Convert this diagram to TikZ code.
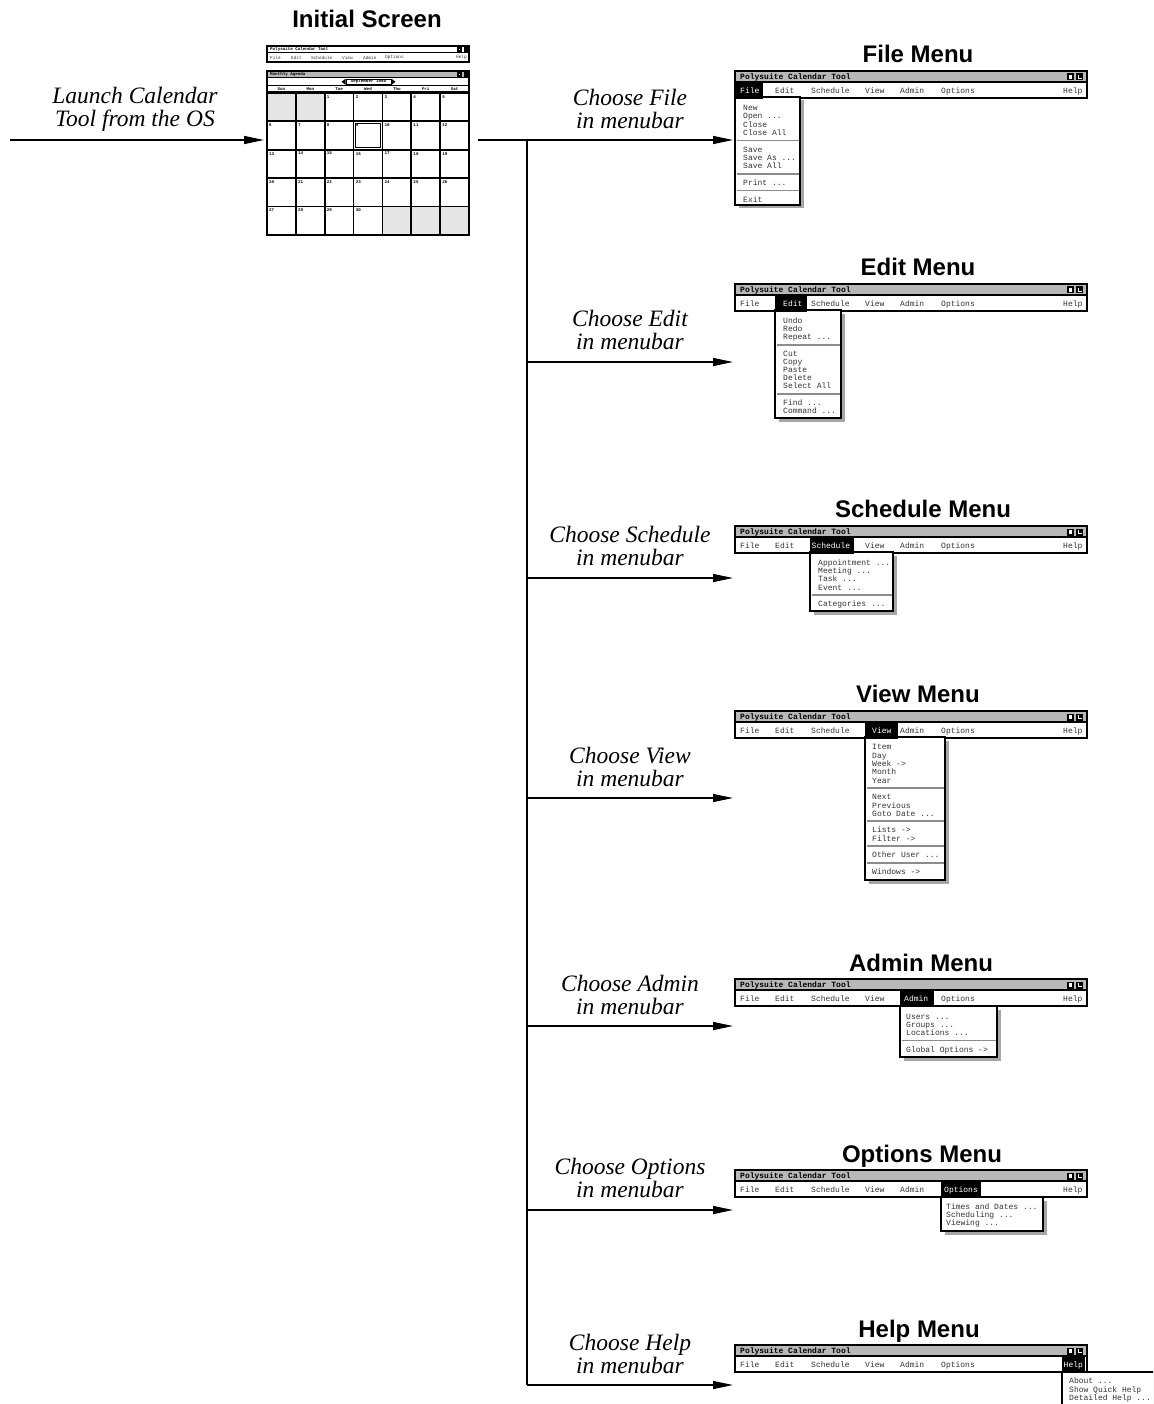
\documentclass[tikz,border=0pt]{standalone}
\usepackage{fontspec}
\setmainfont{Liberation Serif}
\newfontfamily\hsans{Liberation Sans}
\newfontfamily\mono{Liberation Mono}
\usetikzlibrary{arrows.meta}
\newcounter{nd}
\tikzset{
 conn/.style={line width=1.3pt,-{Triangle[length=20pt,width=8pt]}},
 plainline/.style={line width=1.3pt},
 lbl/.style={font=\fontsize{23.5}{23}\selectfont\itshape,align=center,inner sep=0pt},
 ttl/.style={font=\hsans\bfseries\fontsize{24}{24}\selectfont,inner sep=0pt,anchor=base},
 mtxt/.style={font=\mono\fontsize{8}{8}\selectfont,text=black!80,inner sep=0pt,anchor=base west},
 mtitle/.style={font=\mono\bfseries\fontsize{8}{8}\selectfont,inner sep=0pt,anchor=base west},
 tinyt/.style={font=\mono\fontsize{4.4}{4.4}\selectfont,inner sep=0pt,text=black!80},
 tinyb/.style={font=\mono\bfseries\fontsize{4.2}{4.2}\selectfont,inner sep=0pt},
 winframe/.style={line width=1.8pt},
 sepline/.style={black!45,line width=1.8pt},
}
\newcommand\mt[3]{\stepcounter{nd}\node[mtxt] (n\arabic{nd}) at (#1,#2+3.4) {#3};}
\newcommand\mwin[2]{%
 \begin{scope}[yshift=-#1pt]
  \fill[black!28] (735,0) rectangle (1087,11);
  \draw[winframe] (735,0) rectangle (1087,27);
  \draw[line width=1.4pt] (735,11) -- (1087,11);
  \stepcounter{nd}\node[mtitle] (n\arabic{nd}) at (740,8.5) {Polysuite Calendar Tool};
  \fill (1067,2.5) rectangle (1074,9.5); \fill[white] (1068.8,4.3) rectangle (1072.2,7.7);
  \fill (1076,2.5) rectangle (1083,9.5); \fill[white] (1077.5,4) rectangle (1081.5,8); \fill (1079,4) rectangle (1081.5,6.6);
  \ifnum#2=1 \else\mt{740}{19.5}{File}\fi
  \ifnum#2=2 \else\mt{775}{19.5}{Edit}\fi
  \ifnum#2=3 \else\mt{811}{19.5}{Schedule}\fi
  \ifnum#2=4 \else\mt{865}{19.5}{View}\fi
  \ifnum#2=5 \else\mt{900}{19.5}{Admin}\fi
  \ifnum#2=6 \else\mt{941}{19.5}{Options}\fi
  \ifnum#2=7 \else\mt{1063}{19.5}{Help}\fi
 \end{scope}}
\newcommand\dd[4]{\fill[black!35] (#1+3.5,#2+3.5) rectangle (#3+3.5,#4+3.5);
 \draw[winframe,fill=white] (#1,#2) rectangle (#3,#4);}
\newcommand\sepl[3]{\draw[sepline] (#1+1.5,#3) -- (#2-1.5,#3);}
\newcommand\hl[5]{\fill (#1,#3+11) rectangle (#2,#3+28);
 \stepcounter{nd}\node[mtxt,text=white] (n\arabic{nd}) at (#4,#3+22.9) {#5};}
\begin{document}
\begin{tikzpicture}[x=1pt,y=-1pt]
\useasboundingbox (0,0) rectangle (1153,1404);
\clip (0,0) rectangle (1153,1404);
\fill[white] (0,0) rectangle (1153,1404);

% ---------- Initial screen ----------
\node[ttl] (tinit) at (367,28) {Initial Screen};
\draw[line width=1.5pt] (267,46) rectangle (469,62);
\draw[line width=1pt] (267,53) -- (469,53);
\node[tinyb,anchor=west] (s0) at (270,49.6) {Polysuite Calendar Tool};
\fill (457,47.3) rectangle (462,52); \fill[white] (459,49) rectangle (460.2,50.2);
\fill (463.5,47.3) rectangle (468,52);
\node[tinyt,anchor=west] (s1) at (270,57.8) {File};
\node[tinyt,anchor=west] (s2) at (291,57.8) {Edit};
\node[tinyt,anchor=west] (s3) at (311,57.8) {Schedule};
\node[tinyt,anchor=west] (s4) at (342,57.8) {View};
\node[tinyt,anchor=west] (s5) at (363,57.8) {Admin};
\node[tinyt,anchor=west] (s6) at (385,57.8) {Options};
\node[tinyt,anchor=west] (s7) at (456,57.8) {Help};

\fill[black!28] (267,71) rectangle (469,78);
\draw[line width=1.5pt] (267,71) rectangle (469,235);
\draw[line width=1pt] (267,78) -- (469,78);
\draw[line width=1pt] (267,85.5) -- (469,85.5);
\draw[line width=1pt] (267,92) -- (469,92);
\node[tinyb,anchor=west] (c0) at (270,74.5) {Monthly Agenda};
\fill (457,72.3) rectangle (462,77); \fill[white] (459,74) rectangle (460.2,75.2);
\fill (463.5,72.3) rectangle (468,77);
\draw[line width=1pt,fill=white] (346,79.3) rectangle (391,84.3);
\node[tinyb] (c1) at (368.5,81.8) {September 1998};
\fill (345.5,78.8) -- (341.5,81.8) -- (345.5,84.8) -- cycle;
\fill (391.5,78.8) -- (395.5,81.8) -- (391.5,84.8) -- cycle;
\foreach \d [count=\i from 0] in {Sun,Mon,Tue,Wed,Thu,Fri,Sat}{
  \node[tinyb] (h\i) at (267+14.43+\i*28.857,88.8) {\d};
}
\foreach \r in {0,...,4}{
 \foreach \c in {0,...,6}{
  \pgfmathtruncatemacro\n{7*\r+\c-1}
  \pgfmathsetmacro\xa{267+\c*28.857}
  \pgfmathsetmacro\ya{93+\r*28.4}
  \ifnum\n<1 \fill[black!10] (\xa,\ya) rectangle (\xa+28.857,\ya+28.4);
  \else\ifnum\n>30 \fill[black!10] (\xa,\ya) rectangle (\xa+28.857,\ya+28.4);
  \else \node[tinyb,anchor=north west] (d\n) at (\xa+2,\ya+2.2) {\n};
  \fi\fi
 }}
\foreach \c in {0,...,7}{\draw[line width=1.8pt] (267+\c*28.857,93) -- (267+\c*28.857,235);}
\foreach \r in {0,...,5}{\draw[line width=1.8pt] (267,93+\r*28.4) -- (469,93+\r*28.4);}
\draw[line width=0.9pt] (353.6+1.9,121.4+1.9) rectangle (382.4-1.9,149.8-1.9);

% ---------- Connectors ----------
\coordinate (os) at (10,140);
\coordinate (scrIn) at (264,140);
\coordinate (scrOut) at (478,140);
\coordinate (split) at (527,140);
\coordinate (trunkEnd) at (527,1385);
\draw[conn] (os) -- (scrIn);
\draw[plainline] (scrOut) -- (split) -- (trunkEnd);
\foreach \y [count=\k] in {140,362,578,798,1026,1210,1385}{
  \coordinate (b\k) at (527,\y);
  \coordinate (m\k) at (733,\y);
  \draw[conn] (b\k) -- (m\k);
}

% ---------- Labels ----------
\node[lbl] (lLaunch) at (135,109.5) {Launch Calendar\\Tool from the OS};
\node[lbl] (lFile) at (630,108.5) {Choose File\\in menubar};
\node[lbl] (lEdit) at (630,329.5) {Choose Edit\\in menubar};
\node[lbl] (lSched) at (630,545.5) {Choose Schedule\\in menubar};
\node[lbl] (lView) at (630,766.5) {Choose View\\in menubar};
\node[lbl] (lAdmin) at (630,994.5) {Choose Admin\\in menubar};
\node[lbl] (lOpt) at (630,1177.5) {Choose Options\\in menubar};
\node[lbl] (lHelp) at (630,1354) {Choose Help\\in menubar};

% ---------- File menu ----------
\node[ttl] (tFile) at (918,63) {File Menu};
\mwin{71}{1}
\dd{735}{97}{800}{205}
\hl{735}{763}{71}{740}{File}
\mt{743}{107}{New}
\mt{743}{115.5}{Open ...}
\mt{743}{124}{Close}
\mt{743}{132.5}{Close All}
\sepl{735}{800}{140.5}
\mt{743}{149}{Save}
\mt{743}{157}{Save As ...}
\mt{743}{165}{Save All}
\sepl{735}{800}{174}
\mt{743}{182}{Print ...}
\sepl{735}{800}{190.5}
\mt{743}{199}{Exit}

% ---------- Edit menu ----------
\node[ttl] (tEdit) at (918,276) {Edit Menu};
\mwin{284}{2}
\dd{775}{310}{841}{418}
\hl{775}{807}{284}{783}{Edit}
\mt{783}{320}{Undo}
\mt{783}{328}{Redo}
\mt{783}{336.5}{Repeat ...}
\sepl{775}{841}{345}
\mt{783}{353}{Cut}
\mt{783}{361}{Copy}
\mt{783}{369}{Paste}
\mt{783}{377}{Delete}
\mt{783}{385}{Select All}
\sepl{775}{841}{394}
\mt{783}{402}{Find ...}
\mt{783}{410.5}{Command ...}

% ---------- Schedule menu ----------
\node[ttl] (tSched) at (923,517) {Schedule Menu};
\mwin{526}{3}
\dd{810}{552}{893}{611}
\hl{810}{854}{526}{811.5}{Schedule}
\mt{818}{562}{Appointment ...}
\mt{818}{570}{Meeting ...}
\mt{818}{578.5}{Task ...}
\mt{818}{587}{Event ...}
\sepl{810}{893}{595}
\mt{818}{603}{Categories ...}

% ---------- View menu ----------
\node[ttl] (tView) at (918,702) {View Menu};
\mwin{711}{4}
\dd{865}{737}{945}{880}
\hl{865}{898}{711}{872}{View}
\mt{872}{746.5}{Item}
\mt{872}{755}{Day}
\mt{872}{763}{Week ->}
\mt{872}{771.5}{Month}
\mt{872}{780}{Year}
\sepl{865}{945}{788}
\mt{872}{796}{Next}
\mt{872}{805}{Previous}
\mt{872}{813}{Goto Date ...}
\sepl{865}{945}{821}
\mt{872}{829.5}{Lists ->}
\mt{872}{838}{Filter ->}
\sepl{865}{945}{846}
\mt{872}{854.5}{Other User ...}
\sepl{865}{945}{863}
\mt{872}{871}{Windows ->}

% ---------- Admin menu ----------
\node[ttl] (tAdmin) at (921,971) {Admin Menu};
\mwin{979}{5}
\dd{900}{1006}{997}{1057}
\hl{900}{934}{979}{904}{Admin}
\mt{906}{1016}{Users ...}
\mt{906}{1024}{Groups ...}
\mt{906}{1032}{Locations ...}
\sepl{900}{997}{1040.5}
\mt{906}{1049}{Global Options ->}

% ---------- Options menu ----------
\node[ttl] (tOpt) at (922,1162) {Options Menu};
\mwin{1170}{6}
\dd{941}{1197}{1043}{1231}
\hl{941}{981}{1170}{944}{Options}
\mt{946}{1206}{Times and Dates ...}
\mt{946}{1214}{Scheduling ...}
\mt{946}{1222}{Viewing ...}

% ---------- Help menu ----------
\node[ttl] (tHelp) at (919,1337) {Help Menu};
\mwin{1345}{7}
\dd{1062}{1372}{1175}{1420}
\hl{1062}{1085}{1345}{1063.5}{Help}
\mt{1069}{1380.5}{About ...}
\mt{1069}{1389}{Show Quick Help}
\mt{1069}{1397}{Detailed Help ...}
\end{tikzpicture}
\end{document}
